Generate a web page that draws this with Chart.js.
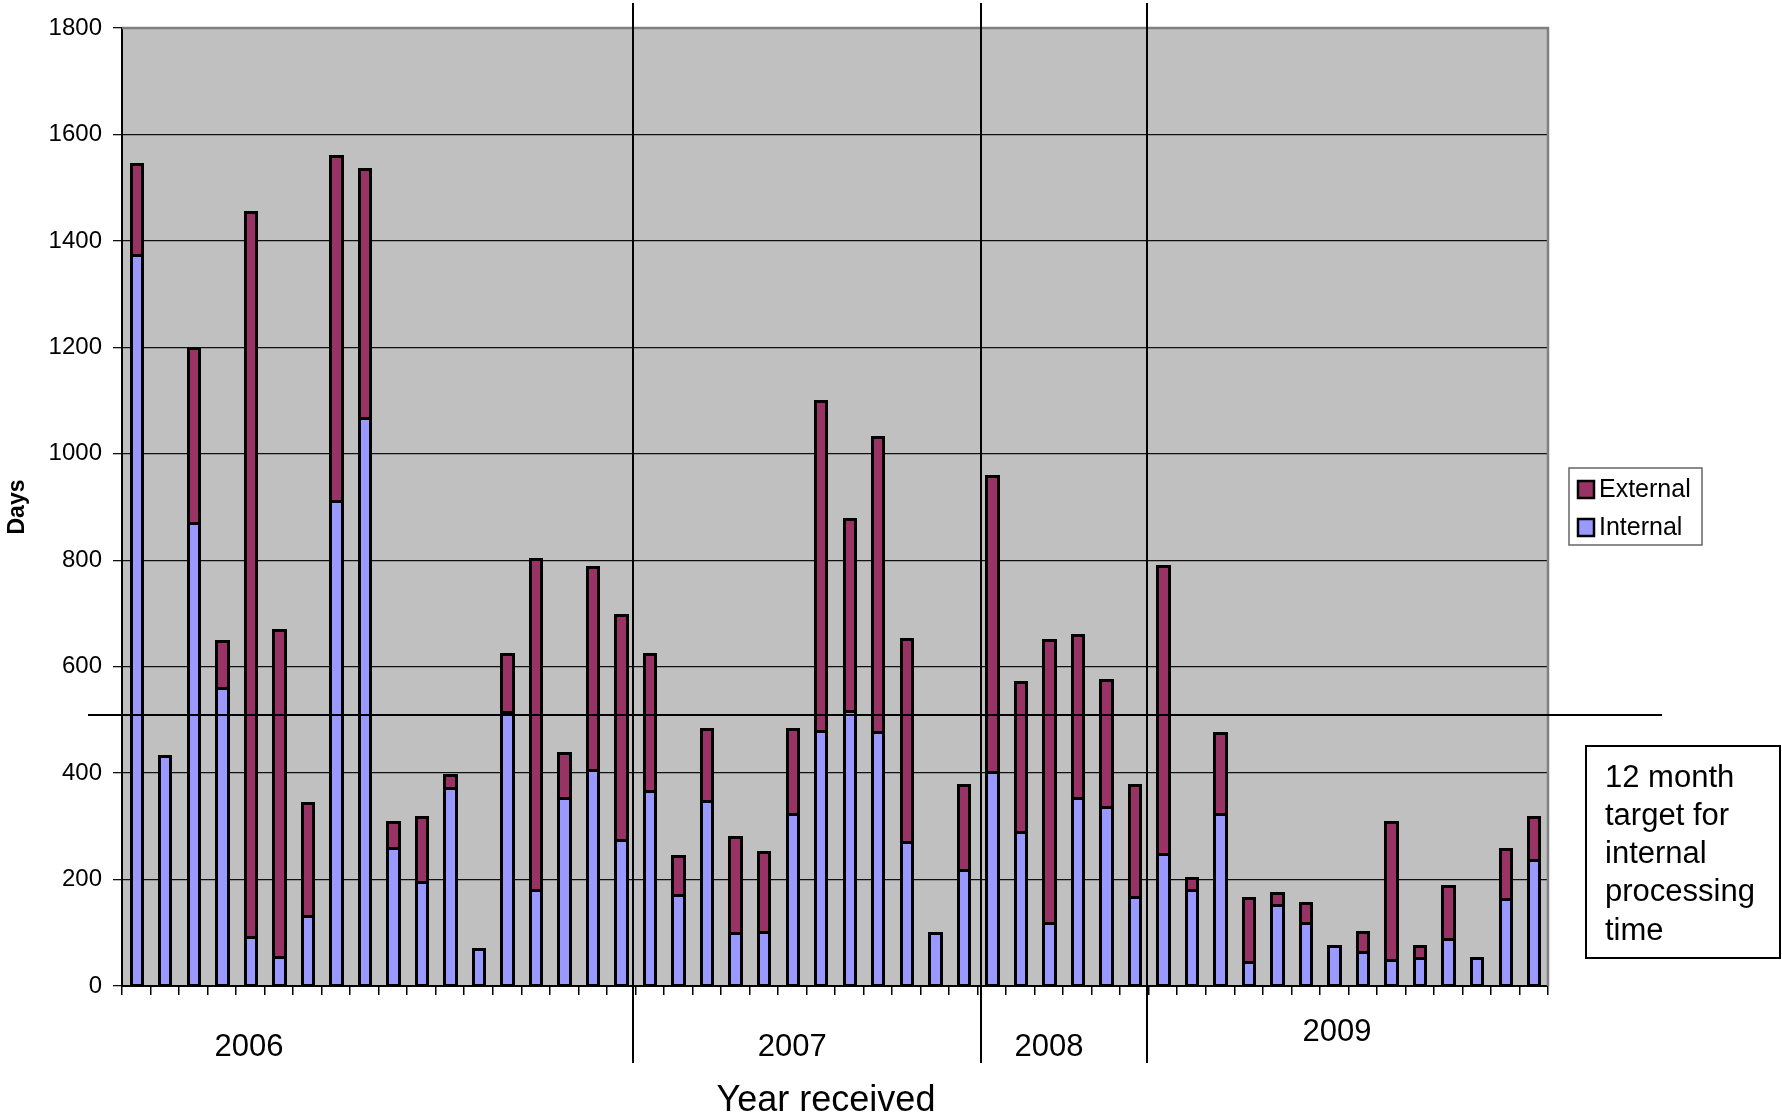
<!DOCTYPE html>
<html>
<head>
<meta charset="utf-8">
<script src="https://cdn.jsdelivr.net/npm/chart.js@4.4.1/dist/chart.umd.min.js"></script>
<style>
  html, body { margin: 0; padding: 0; background: #fff; }
  #wrap { width: 1782px; height: 1119px; }
</style>
</head>
<body>
<div id="wrap"><canvas id="chart" width="1782" height="1119"></canvas></div>
<script>
// --- Data ---
const years = ["2006", "2007", "2008", "2009"];
const yearCounts = [18, 12, 6, 14];
const internalDays = [1374, 433, 870, 560, 92, 55, 132, 912, 1068, 259, 196, 372, 70, 515, 180, 354, 406, 274,
  367, 171, 348, 100, 102, 324, 480, 517, 477, 270, 99, 218,
  403, 290, 119, 354, 337, 168,
  248, 181, 324, 45, 152, 118, 76, 63, 48, 53, 88, 52, 164, 237];
const externalDays = [170, 0, 328, 88, 1363, 613, 212, 648, 467, 50, 121, 25, 0, 109, 623, 83, 382, 423,
  256, 73, 135, 180, 150, 159, 620, 360, 554, 382, 0, 160,
  556, 281, 532, 306, 238, 210,
  542, 22, 152, 120, 22, 38, 0, 38, 261, 22, 99, 0, 94, 80];
const yTicks = [0, 200, 400, 600, 800, 1000, 1200, 1400, 1600, 1800];
const targetDays = 510;
const targetText = ["12 month", "target for", "internal", "processing", "time"];

// one category per case, grouped by year
const labels = [];
years.forEach((y, i) => {
  for (let k = 1; k <= yearCounts[i]; k++) labels.push(y + " #" + k);
});

const FONT = "'Liberation Sans', Arial, sans-serif";
const EXT_COLOR = "#993366";
const INT_COLOR = "#9999FF";

// where the year captions sit (category index, pixel drop below axis)
const yearLabelAt = [3.95, 23, 32, 42.1];
const yearLabelDrop = [61, 61, 61, 46];
// small hand-drawn drift of the separator lines
const sepShift = [-2, 3, -2];

// --- Custom drawing: plot background, borders, separators, target, legend, note ---
const decorPlugin = {
  id: "decor",
  beforeDraw(chart) {
    const { ctx, chartArea: a } = chart;
    ctx.save();
    ctx.fillStyle = "#C0C0C0";
    ctx.fillRect(a.left, a.top, a.right - a.left, a.bottom - a.top);
    ctx.restore();
  },
  beforeDatasetsDraw(chart) {
    const { ctx, chartArea: a } = chart;
    ctx.save();
    ctx.strokeStyle = "#808080";
    ctx.lineWidth = 2.5;
    ctx.beginPath();
    ctx.moveTo(a.left, a.top);
    ctx.lineTo(a.right, a.top);
    ctx.lineTo(a.right, a.bottom);
    ctx.stroke();
    ctx.restore();
  },
  afterDatasetsDraw(chart) {
    const { ctx, chartArea: a, scales: { x, y } } = chart;
    ctx.save();

    // crisp black outlines round every bar segment, taken from the bar elements
    ctx.strokeStyle = "#000";
    ctx.lineWidth = 3;
    chart.data.datasets.forEach((ds, di) => {
      chart.getDatasetMeta(di).data.forEach((bar, i) => {
        if (!ds.data[i]) return;
        const p = bar.getProps(["x", "y", "base", "width"], true);
        const l = Math.round(p.x - p.width / 2) + 0.5;
        const r = Math.round(p.x + p.width / 2) + 0.5;
        const t = Math.round(p.y) + 0.5;
        const b = Math.round(p.base) + 0.5;
        ctx.strokeRect(l, t, r - l, b - t);
      });
    });

    // year separators
    ctx.lineWidth = 2;
    let idx = 0;
    for (let i = 0; i < yearCounts.length - 1; i++) {
      idx += yearCounts[i];
      const px = Math.round((x.getPixelForValue(idx - 1) + x.getPixelForValue(idx)) / 2) + sepShift[i];
      ctx.beginPath();
      ctx.moveTo(px, 3);
      ctx.lineTo(px, 1063);
      ctx.stroke();
    }

    // target line
    const ty = Math.round(y.getPixelForValue(targetDays));
    ctx.lineWidth = 2;
    ctx.beginPath();
    ctx.moveTo(88, ty);
    ctx.lineTo(1662, ty);
    ctx.stroke();

    // year captions
    ctx.fillStyle = "#000";
    ctx.font = "31px " + FONT;
    ctx.textAlign = "center";
    ctx.textBaseline = "middle";
    years.forEach((yr, i) => {
      ctx.fillText(yr, x.getPixelForValue(yearLabelAt[i]), a.bottom + yearLabelDrop[i]);
    });

    // x axis title
    ctx.font = "36px " + FONT;
    ctx.fillText("Year received", 826, 1101);

    // legend box
    ctx.strokeStyle = "#666";
    ctx.lineWidth = 1.5;
    ctx.fillStyle = "#fff";
    ctx.fillRect(1569, 468, 133, 77);
    ctx.strokeRect(1569, 468, 133, 77);
    const legendItems = [["External", EXT_COLOR, 489], ["Internal", INT_COLOR, 527]];
    ctx.font = "25px " + FONT;
    ctx.textAlign = "left";
    legendItems.forEach(([name, col, cy]) => {
      ctx.fillStyle = col;
      ctx.fillRect(1578, cy - 8, 16, 17);
      ctx.strokeStyle = "#000";
      ctx.lineWidth = 2.5;
      ctx.strokeRect(1578, cy - 8, 16, 17);
      ctx.fillStyle = "#000";
      ctx.fillText(name, 1599, cy + 1);
    });

    // target note box
    ctx.fillStyle = "#fff";
    ctx.fillRect(1586, 746, 194, 212);
    ctx.strokeStyle = "#000";
    ctx.lineWidth = 2;
    ctx.strokeRect(1586, 746, 194, 212);
    ctx.fillStyle = "#000";
    ctx.font = "31px " + FONT;
    targetText.forEach((t, i) => {
      ctx.fillText(t, 1605, 778 + i * 38.3);
    });

    ctx.restore();
  }
};

new Chart(document.getElementById("chart").getContext("2d"), {
  type: "bar",
  data: {
    labels: labels,
    datasets: [
      {
        label: "Internal",
        data: internalDays,
        backgroundColor: INT_COLOR,
        borderWidth: 0,
        inflateAmount: 0,
        barPercentage: 0.4,
        categoryPercentage: 1
      },
      {
        label: "External",
        data: externalDays,
        backgroundColor: EXT_COLOR,
        borderWidth: 0,
        inflateAmount: 0,
        barPercentage: 0.4,
        categoryPercentage: 1
      }
    ]
  },
  options: {
    responsive: false,
    devicePixelRatio: 1,
    animation: false,
    layout: { padding: { left: 0, top: 28, right: 234, bottom: 0 } },
    plugins: {
      legend: { display: false },
      tooltip: { enabled: false }
    },
    scales: {
      x: {
        stacked: true,
        grid: { offset: true, drawOnChartArea: false, drawTicks: true, tickLength: 9, color: "#000", lineWidth: 1.5 },
        border: { color: "#000", width: 2 },
        ticks: { display: false },
        afterFit: s => { s.height = 133; }
      },
      y: {
        stacked: true,
        min: 0,
        max: 1800,
        afterBuildTicks: s => { s.ticks = yTicks.map(v => ({ value: v })); },
        grid: { color: "#111", lineWidth: 1.3, tickLength: 9 },
        border: { color: "#000", width: 2 },
        ticks: {
          color: "#000",
          padding: 11,
          font: { family: FONT, size: 24 },
          callback: v => String(v)
        },
        title: {
          display: true,
          text: "Days",
          color: "#000",
          padding: { top: 4, bottom: 0 },
          font: { family: FONT, size: 23, weight: "bold" }
        },
        afterFit: s => { s.width = 122; }
      }
    }
  },
  plugins: [decorPlugin]
});
</script>
</body>
</html>
